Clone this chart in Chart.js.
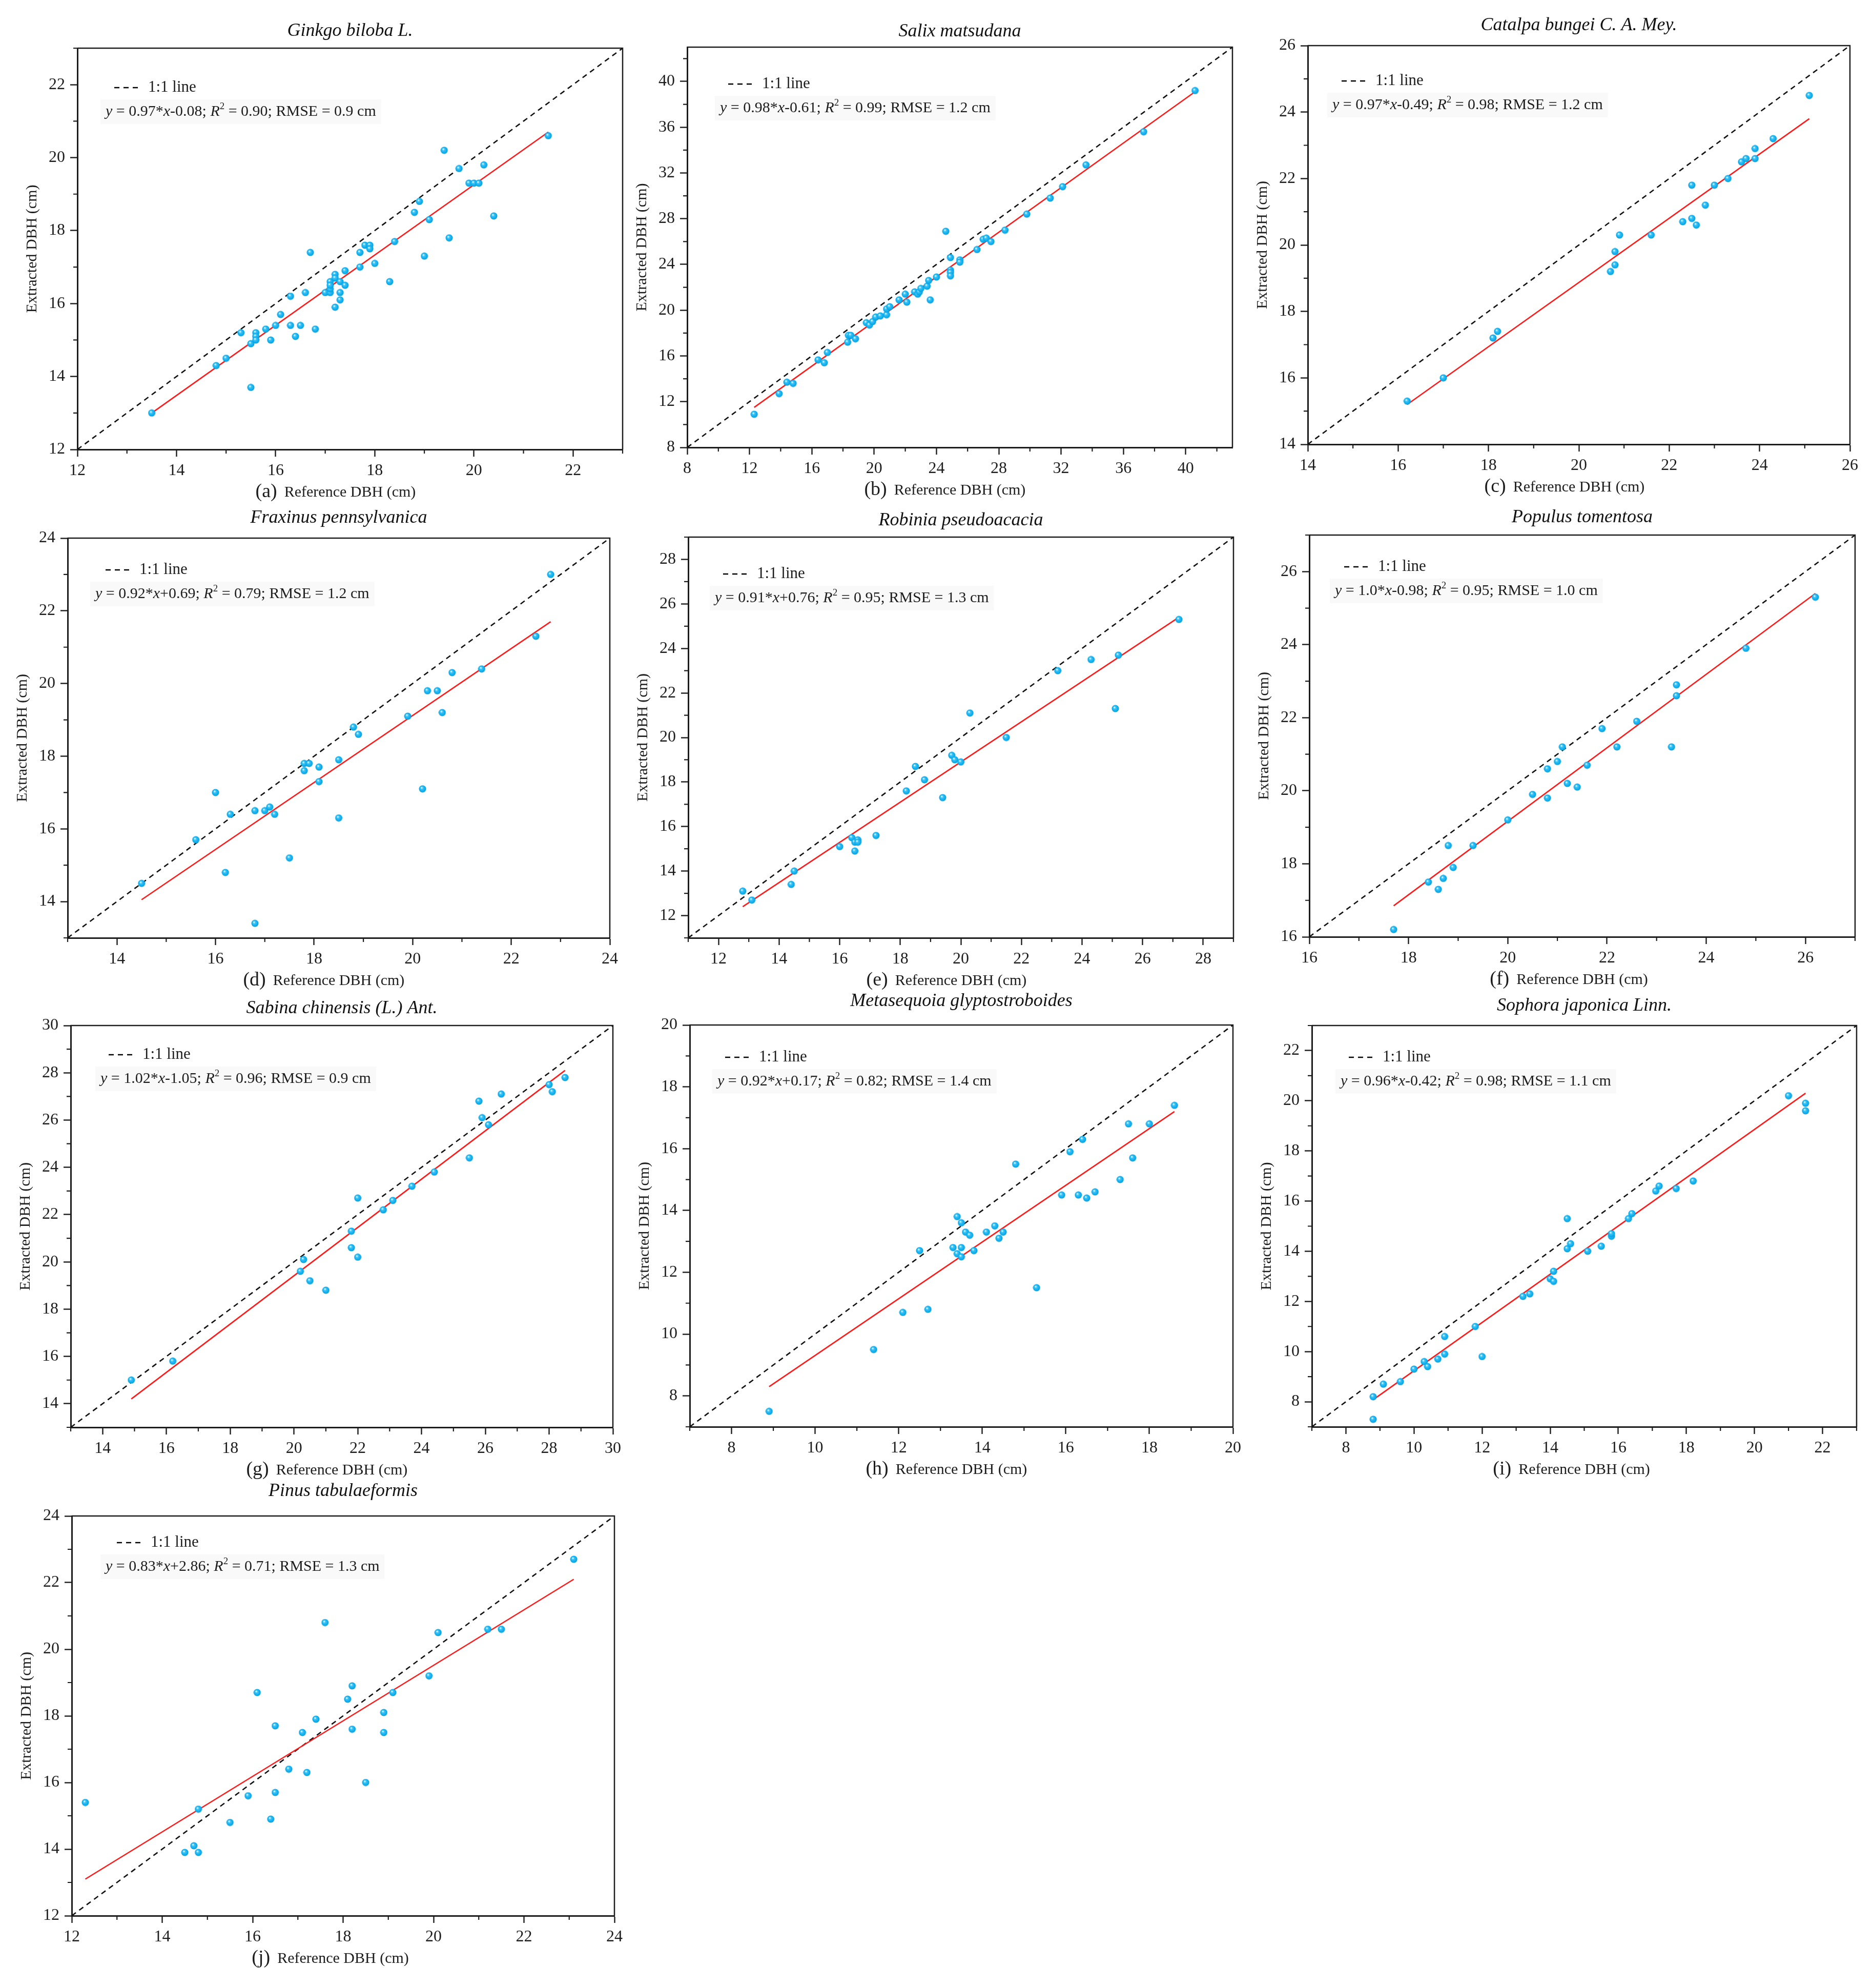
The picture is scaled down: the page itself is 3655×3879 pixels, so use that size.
<!DOCTYPE html>
<html><head><meta charset="utf-8">
<script src="https://cdn.jsdelivr.net/npm/chart.js@4.4.0/dist/chart.umd.min.js"></script>
<style>
html,body{margin:0;padding:0;background:#fff;width:3655px;height:3879px;overflow:hidden;position:relative}
canvas{position:absolute}
</style>
</head><body>
<script>
// ---------------- DATA ----------------
const speciesNames = ["Ginkgo biloba L.","Salix matsudana","Catalpa bungei C. A. Mey.","Fraxinus pennsylvanica","Robinia pseudoacacia","Populus tomentosa","Sabina chinensis (L.) Ant.","Metasequoia glyptostroboides","Sophora japonica Linn.","Pinus tabulaeformis"];
const panelLetters = ["(a)","(b)","(c)","(d)","(e)","(f)","(g)","(h)","(i)","(j)"];
const xAxisTitle = "Reference DBH (cm)";
const yAxisTitle = "Extracted DBH (cm)";
const legendLabel = "1:1 line";
const eqSlope = ["0.97","0.98","0.97","0.92","0.91","1.0","1.02","0.92","0.96","0.83"];
const eqIntercept = ["-0.08","-0.61","-0.49","+0.69","+0.76","-0.98","-1.05","+0.17","-0.42","+2.86"];
const eqR2 = ["0.90","0.99","0.98","0.79","0.95","0.95","0.96","0.82","0.98","0.71"];
const eqRMSE = ["0.9","1.2","1.2","1.2","1.3","1.0","0.9","1.4","1.1","1.3"];
const axisMin = [12,8,14,13,11,16,13,7,7,12];
const axisMax = [23,43,26,24,29,27,30,20,23,24];
const minorStep = [1,2,1,1,1,1,1,1,1,1];
const ticksA = [12,14,16,18,20,22];
const ticksB = [8,12,16,20,24,28,32,36,40];
const ticksC = [14,16,18,20,22,24,26];
const ticksD = [14,16,18,20,22,24];
const ticksE = [12,14,16,18,20,22,24,26,28];
const ticksF = [16,18,20,22,24,26];
const ticksG = [14,16,18,20,22,24,26,28,30];
const ticksH = [8,10,12,14,16,18,20];
const ticksI = [8,10,12,14,16,18,20,22];
const ticksJ = [12,14,16,18,20,22,24];

const refA = [13.5,14.8,15.0,15.3,15.5,15.5,15.6,15.6,15.6,15.8,15.9,16.0,16.1,16.3,16.3,16.4,16.5,16.6,16.7,16.8,17.0,17.1,17.1,17.1,17.1,17.2,17.2,17.2,17.3,17.3,17.3,17.4,17.4,17.7,17.7,17.8,17.9,17.9,18.0,18.3,18.4,18.8,18.9,19.0,19.1,19.4,19.5,19.7,19.9,20.0,20.1,20.2,20.4,21.5];
const extA = [13.0,14.3,14.5,15.2,13.7,14.9,15.2,15.1,15.0,15.3,15.0,15.4,15.7,15.4,16.2,15.1,15.4,16.3,17.4,15.3,16.3,16.3,16.4,16.6,16.5,16.8,16.7,15.9,16.6,16.3,16.1,16.9,16.5,17.4,17.0,17.6,17.6,17.5,17.1,16.6,17.7,18.5,18.8,17.3,18.3,20.2,17.8,19.7,19.3,19.3,19.3,19.8,18.4,20.6];
const refB = [12.3,13.9,14.4,14.8,16.4,16.8,17.0,18.3,18.35,18.5,18.8,19.5,19.7,19.9,20.1,20.4,20.8,20.8,21.0,21.6,22.0,22.1,22.6,22.8,22.9,23.0,23.4,23.5,23.6,24.0,24.6,24.9,24.9,24.9,24.9,25.5,25.5,26.6,27.0,27.2,27.5,28.4,29.8,31.3,32.1,33.6,37.3,40.6];
const extB = [10.9,12.7,13.7,13.6,15.65,15.4,16.3,17.2,17.8,17.8,17.5,18.9,18.7,19.0,19.4,19.5,19.6,20.1,20.3,20.9,21.4,20.7,21.6,21.4,21.6,21.9,22.1,22.6,20.9,22.9,26.9,24.6,23.5,23.3,23.0,24.4,24.2,25.3,26.2,26.3,26.0,27.0,28.4,29.8,30.8,32.7,35.6,39.2];
const refC = [16.2,17.0,18.1,18.2,20.7,20.8,20.8,20.9,21.6,22.3,22.5,22.6,22.5,22.8,23.0,23.3,23.6,23.7,23.9,23.9,24.3,25.1];
const extC = [15.3,16.0,17.2,17.4,19.2,19.4,19.8,20.3,20.3,20.7,20.8,20.6,21.8,21.2,21.8,22.0,22.5,22.6,22.6,22.9,23.2,24.5];
const refD = [14.5,15.6,16.0,16.2,16.3,16.8,16.8,17.0,17.1,17.2,17.5,17.8,17.8,17.9,18.1,18.1,18.5,18.5,18.8,18.9,19.9,20.2,20.3,20.5,20.6,20.8,21.4,22.5,22.8];
const extD = [14.5,15.7,17.0,14.8,16.4,16.5,13.4,16.5,16.6,16.4,15.2,17.8,17.6,17.8,17.7,17.3,17.9,16.3,18.8,18.6,19.1,17.1,19.8,19.8,19.2,20.3,20.4,21.3,23.0];
const refE = [12.8,13.1,14.4,14.5,16.0,16.4,16.5,16.5,16.6,16.6,17.2,18.2,18.5,18.8,19.4,19.7,19.8,20.0,20.3,21.5,23.2,24.3,25.1,25.2,27.2];
const extE = [13.1,12.7,13.4,14.0,15.1,15.5,14.9,15.3,15.4,15.3,15.6,17.6,18.7,18.1,17.3,19.2,19.0,18.9,21.1,20.0,23.0,23.5,21.3,23.7,25.3];
const refF = [17.7,18.4,18.6,18.7,18.8,18.9,19.3,20.0,20.5,20.8,20.8,21.0,21.1,21.2,21.4,21.6,21.9,22.2,22.6,23.3,23.4,23.4,24.8,26.2];
const extF = [16.2,17.5,17.3,17.6,18.5,17.9,18.5,19.2,19.9,19.8,20.6,20.8,21.2,20.2,20.1,20.7,21.7,21.2,21.9,21.2,22.9,22.6,23.9,25.3];
const refG = [14.9,16.2,20.2,20.3,20.5,21.0,21.8,21.8,22.0,22.0,22.8,23.1,23.7,24.4,25.5,25.8,25.9,26.1,26.5,28.0,28.1,28.5];
const extG = [15.0,15.8,19.6,20.1,19.2,18.8,21.3,20.6,20.2,22.7,22.2,22.6,23.2,23.8,24.4,26.8,26.1,25.8,27.1,27.5,27.2,27.8];
const refH = [8.9,11.4,12.1,12.5,12.7,13.3,13.4,13.4,13.5,13.5,13.5,13.6,13.7,13.8,14.1,14.3,14.4,14.5,14.8,15.3,15.9,16.1,16.3,16.4,16.5,16.7,17.3,17.5,17.6,18.0,18.6];
const extH = [7.5,9.5,10.7,12.7,10.8,12.8,12.6,13.8,12.5,12.8,13.6,13.3,13.2,12.7,13.3,13.5,13.1,13.3,15.5,11.5,14.5,15.9,14.5,16.3,14.4,14.6,15.0,16.8,15.7,16.8,17.4];
const refI = [8.8,8.8,9.1,9.6,10.0,10.3,10.4,10.7,10.9,10.9,11.8,12.0,13.2,13.4,14.0,14.1,14.1,14.5,14.5,14.6,15.1,15.5,15.8,15.8,16.3,16.4,17.1,17.2,17.7,18.2,21.0,21.5,21.5];
const extI = [8.2,7.3,8.7,8.8,9.3,9.6,9.4,9.7,9.9,10.6,11.0,9.8,12.2,12.3,12.9,13.2,12.8,14.1,15.3,14.3,14.0,14.2,14.6,14.7,15.3,15.5,16.4,16.6,16.5,16.8,20.2,19.9,19.6];
const refJ = [12.3,14.5,14.7,14.8,14.8,15.5,15.9,16.1,16.4,16.5,16.5,16.8,17.1,17.2,17.4,17.6,18.1,18.2,18.2,18.5,18.9,18.9,19.1,19.9,20.1,21.2,21.5,23.1];
const extJ = [15.4,13.9,14.1,13.9,15.2,14.8,15.6,18.7,14.9,15.7,17.7,16.4,17.5,16.3,17.9,20.8,18.5,18.9,17.6,16.0,18.1,17.5,18.7,19.2,20.5,20.6,20.6,22.7];

// red fitted-line end points
const fitRef = [[13.5,21.5],[12.3,40.6],[16.2,25.1],[14.5,22.8],[12.8,27.2],[17.7,26.2],[14.9,28.5],[8.9,18.6],[8.8,21.5],[12.3,23.1]];
const fitExt = [[13.0,20.7],[11.5,39.1],[15.2,23.8],[14.05,21.7],[12.4,25.4],[16.85,25.4],[14.2,28.1],[8.3,17.2],[8.08,20.3],[13.1,22.1]];

const refAll = [refA,refB,refC,refD,refE,refF,refG,refH,refI,refJ];
const extAll = [extA,extB,extC,extD,extE,extF,extG,extH,extI,extJ];
const tickAll = [ticksA,ticksB,ticksC,ticksD,ticksE,ticksF,ticksG,ticksH,ticksI,ticksJ];

// ---------------- LAYOUT (positions only) ----------------
// [plotLeft, plotTop, plotRight, plotBottom, titleGap, legendDy, legendDx, eqDx]
const layout = [
  [151,94,1215,877,33,77,72,55],
  [1341,92,2405,873,30,72,80,64],
  [2552,89,3616,867,39,69,66,48],
  [132,1050,1196,1830,39,62,74,54],
  [1343,1048,2407,1830,32,72,68,52],
  [2555,1044,3620,1828,34,62,68,50],
  [138,2001,1202,2785,33,57,74,58],
  [1346,2000,2412,2784,46,63,69,54],
  [2560,2001,3623,2784,38,62,72,56],
  [140,2958,1205,3738,48,52,88,66]
];
const ML = 108, MR = 18, MT = 70, MB = 104;
const FONT = "'Liberation Serif','Times New Roman',serif";
const INK = '#1c1c1c';

// sphere-like point image
function makeDot() {
  const c = document.createElement('canvas');
  c.width = 15; c.height = 15;
  const g = c.getContext('2d');
  const grad = g.createRadialGradient(5.5,5,0.5,7.5,7.5,7.5);
  grad.addColorStop(0,'#f2fbff');
  grad.addColorStop(0.28,'#3cc4f6');
  grad.addColorStop(0.7,'#0eafee');
  grad.addColorStop(1,'#0899d6');
  g.fillStyle = grad;
  g.beginPath(); g.arc(7.5,7.5,7,0,Math.PI*2); g.fill();
  return c;
}
const dotImg = makeDot();

const decorPlugin = {
  id: 'decor',
  afterDatasetsDraw(chart, args, o) {
    const {ctx, chartArea: ca} = chart;
    const i = o.idx;
    const lay = layout[i];
    ctx.save();
    // legend: dashed sample + label
    const ly = ca.top + lay[5];
    const lx = ca.left + lay[6];
    ctx.strokeStyle = '#000'; ctx.lineWidth = 2.6; ctx.setLineDash([10,8]);
    ctx.beginPath(); ctx.moveTo(lx, ly); ctx.lineTo(lx + 52, ly); ctx.stroke();
    ctx.setLineDash([]);
    ctx.fillStyle = INK; ctx.textBaseline = 'middle'; ctx.textAlign = 'left';
    ctx.font = '31px ' + FONT;
    ctx.fillText(legendLabel, lx + 66, ly);
    // equation
    const ey = ly + 47;
    const ex = ca.left + lay[7];
    const parts = [
      {t:'y', it:true}, {t:' = ' + eqSlope[i] + '*'}, {t:'x', it:true},
      {t:eqIntercept[i] + '; '}, {t:'R', it:true}, {t:'2', sup:true},
      {t:' = ' + eqR2[i] + '; RMSE = ' + eqRMSE[i] + ' cm'}
    ];
    const fontOf = p => (p.it ? 'italic ' : '') + (p.sup ? '19px ' : '30px ') + FONT;
    let w = 0;
    parts.forEach(p => { ctx.font = fontOf(p); w += ctx.measureText(p.t).width; });
    ctx.fillStyle = '#f9f9f9';
    ctx.fillRect(ex - 10, ey - 24, w + 20, 48);
    ctx.fillStyle = INK;
    let x = ex;
    parts.forEach(p => {
      ctx.font = fontOf(p);
      ctx.fillText(p.t, x, p.sup ? ey - 10 : ey);
      x += ctx.measureText(p.t).width;
    });
    ctx.restore();
  },
  afterDraw(chart, args, o) {
    const {ctx, chartArea: ca} = chart;
    const i = o.idx;
    const xs = chart.scales.x, ys = chart.scales.y;
    ctx.save();
    // top & right frame
    ctx.strokeStyle = INK; ctx.lineWidth = 2.5;
    ctx.beginPath();
    ctx.moveTo(ca.left, ca.top); ctx.lineTo(ca.right, ca.top); ctx.lineTo(ca.right, ca.bottom);
    ctx.stroke();
    // minor ticks
    const majors = tickAll[i];
    ctx.lineWidth = 2.2;
    ctx.beginPath();
    for (let v = axisMin[i]; v <= axisMax[i] + 1e-9; v += minorStep[i]) {
      if (majors.includes(v)) continue;
      const px = xs.getPixelForValue(v);
      ctx.moveTo(px, ca.bottom); ctx.lineTo(px, ca.bottom + 8);
      const py = ys.getPixelForValue(v);
      ctx.moveTo(ca.left, py); ctx.lineTo(ca.left - 8, py);
    }
    ctx.stroke();
    // panel letter before the x-axis title
    ctx.font = '30px ' + FONT;
    const tw = ctx.measureText(xAxisTitle).width;
    const cx = (ca.left + ca.right) / 2;
    const cy = xs.bottom - 2 - 18;
    ctx.font = '38px ' + FONT;
    ctx.fillStyle = INK; ctx.textAlign = 'right'; ctx.textBaseline = 'middle';
    ctx.fillText(panelLetters[i], cx - tw / 2 - 14, cy - 1);
    ctx.restore();
  }
};

speciesNames.forEach((name, i) => {
  const [L, T, R, B, tg] = layout[i];
  const w = ML + (R - L) + MR, h = MT + (B - T) + MB;
  const cv = document.createElement('canvas');
  cv.width = w; cv.height = h;
  cv.style.left = (L - ML) + 'px'; cv.style.top = (T - MT) + 'px';
  cv.style.width = w + 'px'; cv.style.height = h + 'px';
  document.body.appendChild(cv);

  const lh = 36 * 1.2;
  const pb = tg - lh / 2;
  const pt = MT - lh - pb;
  const ticks = tickAll[i];
  const lo = axisMin[i], hi = axisMax[i];

  const scaleCommon = (isX) => ({
    type: 'linear', min: lo, max: hi,
    afterBuildTicks: s => { s.ticks = ticks.map(v => ({value: v})); },
    afterFit: s => { if (isX) s.height = MB; else s.width = ML; },
    border: {display: true, color: INK, width: 3},
    grid: {drawOnChartArea: false, drawTicks: true, tickLength: 14, tickWidth: 2.4, tickColor: INK},
    ticks: {autoSkip: false, maxRotation: 0, padding: isX ? 8 : 10, color: INK, font: {family: FONT, size: 32}},
    title: {
      display: true, text: isX ? xAxisTitle : yAxisTitle, color: INK,
      font: {family: FONT, size: 30, lineHeight: 1.2},
      padding: isX ? {top: 0, bottom: 2} : {top: ML - 88 - 18, bottom: 0}
    }
  });

  new Chart(cv, {
    type: 'scatter',
    data: {
      datasets: [
        {
          label: name,
          data: refAll[i].map((x, k) => ({x: x, y: extAll[i][k]})),
          pointStyle: dotImg, pointRadius: 7, showLine: false
        },
        {
          label: 'fit',
          data: fitRef[i].map((x, k) => ({x: x, y: fitExt[i][k]})),
          showLine: true, borderColor: '#ff1a1a', borderWidth: 2.6, pointRadius: 0, fill: false
        },
        {
          label: legendLabel,
          data: [{x: lo, y: lo}, {x: hi, y: hi}],
          showLine: true, borderColor: '#111', borderWidth: 2.6, borderDash: [10, 8], pointRadius: 0, fill: false
        }
      ]
    },
    options: {
      responsive: false, animation: false, devicePixelRatio: 1,
      layout: {padding: {left: 0, right: MR, top: 0, bottom: 0}},
      plugins: {
        legend: {display: false},
        tooltip: {enabled: false},
        title: {
          display: true, text: name, fullSize: false, color: '#111',
          font: {family: FONT, size: 36, style: 'italic', weight: 'normal', lineHeight: 1.2},
          padding: {top: pt, bottom: pb}
        },
        decor: {idx: i}
      },
      scales: {x: scaleCommon(true), y: scaleCommon(false)}
    },
    plugins: [decorPlugin]
  });
});
</script>
</body></html>
